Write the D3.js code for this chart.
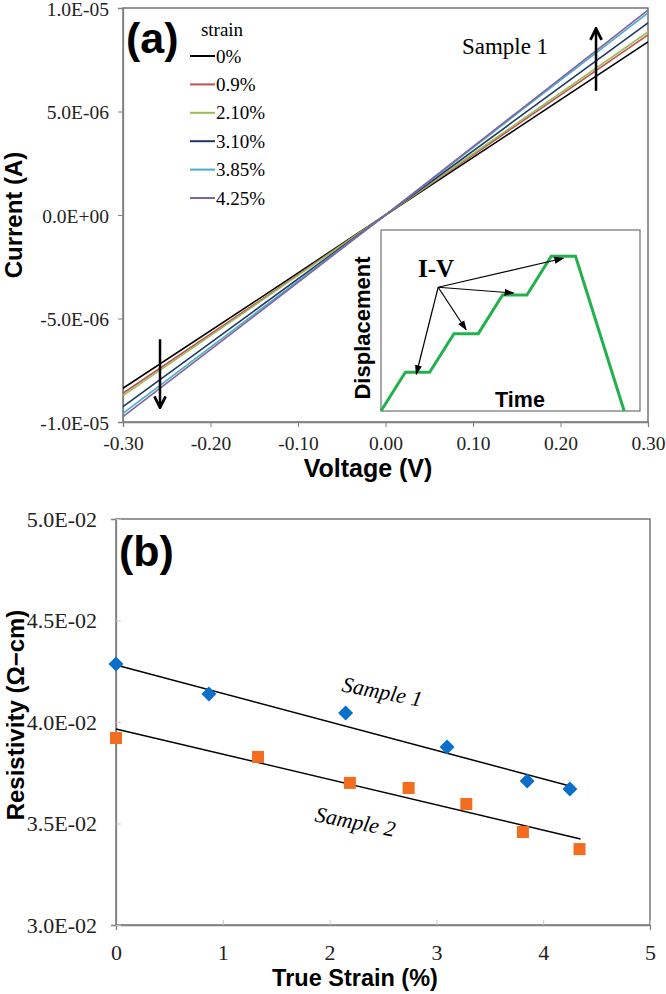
<!DOCTYPE html>
<html><head><meta charset="utf-8">
<script src="https://cdn.jsdelivr.net/npm/d3@7"></script>
<style>body{margin:0;background:#fff}svg{display:block}</style>
</head><body>
<svg id="c" width="666" height="994"></svg>
<script>
// ---------- Panel (a) data ----------
const voltage = [-0.30, -0.15, 0, 0.15, 0.30];
const strainLabels = ["0%", "0.9%", "2.10%", "3.10%", "3.85%", "4.25%"];
const strainColors = ["#000000", "#c0504d", "#9bbb59", "#1f3864", "#4bacc6", "#8064a2"];
const current0   = [-8.37e-6, -4.20e-6, 0, 4.17e-6, 8.36e-6];
const current09  = [-8.61e-6, -4.32e-6, 0, 4.34e-6, 8.70e-6];
const current210 = [-8.73e-6, -4.38e-6, 0, 4.43e-6, 8.84e-6];
const current310 = [-9.26e-6, -4.63e-6, 0, 4.64e-6, 9.28e-6];
const current385 = [-9.58e-6, -4.79e-6, 0, 4.88e-6, 9.76e-6];
const current425 = [-9.74e-6, -4.88e-6, 0, 4.95e-6, 9.90e-6];
const currents = [current0, current09, current210, current310, current385, current425];
const xTicksA = [-0.30, -0.20, -0.10, 0.00, 0.10, 0.20, 0.30];
const xTickLabelsA = ["-0.30", "-0.20", "-0.10", "0.00", "0.10", "0.20", "0.30"];
const yTicksA = [-1e-5, -5e-6, 0, 5e-6, 1e-5];
const yTickLabelsA = ["-1.0E-05", "-5.0E-06", "0.0E+00", "5.0E-06", "1.0E-05"];
// inset: stepwise displacement profile
const insetTime = [0, 1, 2, 3, 4, 5, 6, 7, 8, 10];
const insetDisp = [0, 1, 1, 2, 2, 3, 3, 4, 4, 0];
const insetArrowTargets = [[1.45, 0.95], [3.5, 2.1], [5.45, 3.05], [7.5, 3.95]];
const insetArrowOrigin = [2.35, 3.2];

// ---------- Panel (b) data ----------
const strain1 = [0, 0.87, 2.15, 3.10, 3.85, 4.25];
const resist1 = [0.04286, 0.04138, 0.04044, 0.03877, 0.03709, 0.03670];
const strain2 = [0, 1.33, 2.19, 2.74, 3.28, 3.81, 4.34];
const resist2 = [0.03921, 0.03828, 0.03700, 0.03675, 0.03596, 0.03458, 0.03374];
const trend1X = [0, 4.25], trend1Y = [0.04281, 0.03685];
const trend2X = [0, 4.35], trend2Y = [0.03966, 0.03424];
const xTicksB = [0, 1, 2, 3, 4, 5];
const xTickLabelsB = ["0", "1", "2", "3", "4", "5"];
const yTicksB = [0.030, 0.035, 0.040, 0.045, 0.050];
const yTickLabelsB = ["3.0E-02", "3.5E-02", "4.0E-02", "4.5E-02", "5.0E-02"];

const svg = d3.select("#c");
const SERIF = "'Liberation Serif', 'Times New Roman', serif";
const SANS = "'Liberation Sans', Arial, sans-serif";
const AX = "#808080";

function arrowHead(id, size, open) {
  let defs = svg.select("defs");
  if (defs.empty()) defs = svg.append("defs");
  const m = defs.append("marker").attr("id", id).attr("viewBox", "0 0 10 10")
    .attr("refX", 9).attr("refY", 5).attr("markerWidth", size).attr("markerHeight", size)
    .attr("orient", "auto").attr("markerUnits", "userSpaceOnUse");
  if (open) m.append("path").attr("d", "M1,1 L9,5 L1,9").attr("fill", "none").attr("stroke", "#000").attr("stroke-width", 2);
  else m.append("path").attr("d", "M0,1.5 L10,5 L0,8.5 Z").attr("fill", "#000");
}
arrowHead("headBig", 14, true);
arrowHead("headSmall", 10, false);

// ===== Panel (a) =====
const xA = d3.scaleLinear().domain([-0.3, 0.3]).range([123, 648]);
const yA = d3.scaleLinear().domain([-1e-5, 1e-5]).range([422, 8]);
const gA = svg.append("g");

gA.append("rect").attr("x", xA(-0.3)).attr("y", yA(1e-5))
  .attr("width", xA(0.3) - xA(-0.3)).attr("height", yA(-1e-5) - yA(1e-5))
  .attr("fill", "none").attr("stroke", "#606060").attr("stroke-width", 1.3);

const axA = d3.axisBottom(xA).tickValues(xTicksA).tickSize(5).tickFormat((d, i) => xTickLabelsA[i]);
const axAg = gA.append("g").attr("transform", `translate(0,${yA(-1e-5)})`).call(axA);
const ayA = d3.axisLeft(yA).tickValues(yTicksA).tickSize(5).tickFormat((d, i) => yTickLabelsA[i]);
const ayAg = gA.append("g").attr("transform", `translate(${xA(-0.3)},0)`).call(ayA);
[axAg, ayAg].forEach(g => {
  g.attr("font-family", SERIF);
  g.select(".domain").attr("stroke", AX).attr("stroke-width", 1.3);
  g.selectAll(".tick line").attr("stroke", AX);
  g.selectAll(".tick text").attr("font-family", SERIF).attr("font-size", 19.5).attr("fill", "#222");
});
axAg.selectAll(".tick text").attr("dy", "0").attr("y", 28);
ayAg.selectAll(".tick text").attr("x", -14).attr("dy", "0.36em");

const lineA = d3.line().x((d, i) => xA(voltage[i])).y(d => yA(d));
currents.forEach((c, k) => {
  gA.append("path").attr("d", lineA(c)).attr("fill", "none")
    .attr("stroke", strainColors[k]).attr("stroke-width", 1.6);
});

// legend
gA.append("text").attr("x", 222).attr("y", 36).attr("text-anchor", "middle")
  .attr("font-family", SERIF).attr("font-size", 19).text("strain");
strainLabels.forEach((s, k) => {
  const y = 56 + k * 28.4;
  gA.append("line").attr("x1", 190).attr("x2", 215).attr("y1", y).attr("y2", y)
    .attr("stroke", strainColors[k]).attr("stroke-width", 2);
  gA.append("text").attr("x", 216).attr("y", y + 6.5).attr("font-family", SERIF)
    .attr("font-size", 19).text(s);
});

gA.append("text").attr("x", 126).attr("y", 53).attr("font-family", SANS)
  .attr("font-weight", "bold").attr("font-size", 43).text("(a)");

gA.append("text").attr("x", 505).attr("y", 54).attr("text-anchor", "middle")
  .attr("font-family", SERIF).attr("font-size", 23).text("Sample 1");

// strain direction arrows
gA.append("line").attr("x1", xA(-0.2577)).attr("x2", xA(-0.2577))
  .attr("y1", yA(-6.0e-6)).attr("y2", yA(-9.3e-6))
  .attr("stroke", "#000").attr("stroke-width", 2.5).attr("marker-end", "url(#headBig)");
gA.append("line").attr("x1", xA(0.2406)).attr("x2", xA(0.2406))
  .attr("y1", yA(6.0e-6)).attr("y2", yA(9.0e-6))
  .attr("stroke", "#000").attr("stroke-width", 2.5).attr("marker-end", "url(#headBig)");

// axis titles
gA.append("text").attr("x", 368).attr("y", 477).attr("text-anchor", "middle")
  .attr("font-family", SANS).attr("font-weight", "bold").attr("font-size", 25).text("Voltage (V)");
gA.append("text").attr("transform", "translate(22,215) rotate(-90)").attr("text-anchor", "middle")
  .attr("font-family", SANS).attr("font-weight", "bold").attr("font-size", 24).text("Current (A)");

// inset
const xI = d3.scaleLinear().domain([0, 10.65]).range([381, 640]);
const yI = d3.scaleLinear().domain([0, 4.68]).range([411, 230]);
gA.append("rect").attr("x", xI(0)).attr("y", yI(4.68)).attr("width", xI(10.65) - xI(0))
  .attr("height", yI(0) - yI(4.68)).attr("fill", "#fff").attr("stroke", "#707070").attr("stroke-width", 1.2);
gA.append("path").attr("d", d3.line().x((d, i) => xI(insetTime[i])).y(d => yI(d))(insetDisp))
  .attr("fill", "none").attr("stroke", "#22b14c").attr("stroke-width", 3);
insetArrowTargets.forEach(t => {
  gA.append("line").attr("x1", xI(insetArrowOrigin[0])).attr("y1", yI(insetArrowOrigin[1]))
    .attr("x2", xI(t[0])).attr("y2", yI(t[1])).attr("stroke", "#000").attr("stroke-width", 1.2)
    .attr("marker-end", "url(#headSmall)");
});
gA.append("text").attr("x", 436).attr("y", 277).attr("text-anchor", "middle")
  .attr("font-family", SERIF).attr("font-weight", "bold").attr("font-size", 25).text("I-V");
gA.append("text").attr("x", 520).attr("y", 407).attr("text-anchor", "middle")
  .attr("font-family", SANS).attr("font-weight", "bold").attr("font-size", 21.5).text("Time");
gA.append("text").attr("transform", "translate(370,328) rotate(-90)").attr("text-anchor", "middle")
  .attr("font-family", SANS).attr("font-weight", "bold").attr("font-size", 22).text("Displacement");

// ===== Panel (b) =====
const xB = d3.scaleLinear().domain([0, 5]).range([116, 650]);
const yB = d3.scaleLinear().domain([0.03, 0.05]).range([925, 519]);
const gB = svg.append("g");
gB.append("rect").attr("x", xB(0)).attr("y", yB(0.05)).attr("width", xB(5) - xB(0))
  .attr("height", yB(0.03) - yB(0.05)).attr("fill", "none").attr("stroke", "#606060").attr("stroke-width", 1.3);
const axBg = gB.append("g").attr("transform", `translate(0,${yB(0.03)})`)
  .call(d3.axisBottom(xB).tickValues(xTicksB).tickSize(5).tickFormat((d, i) => xTickLabelsB[i]));
const ayBg = gB.append("g").attr("transform", `translate(${xB(0)},0)`)
  .call(d3.axisLeft(yB).tickValues(yTicksB).tickSize(5).tickFormat((d, i) => yTickLabelsB[i]));
[axBg, ayBg].forEach(g => {
  g.attr("font-family", SERIF);
  g.select(".domain").attr("stroke", AX).attr("stroke-width", 1.3);
  g.selectAll(".tick line").attr("stroke", "#c8c8c8");
  g.selectAll(".tick text").attr("font-family", SERIF).attr("font-size", 22).attr("fill", "#222");
});
axBg.selectAll(".tick line").attr("y2", -5);
axBg.selectAll(".tick text").attr("dy", "0").attr("y", 35);
ayBg.selectAll(".tick line").attr("x2", 5);
ayBg.selectAll(".tick text").attr("x", -19);

const lineB = d3.line().x(d => xB(d[0])).y(d => yB(d[1]));
gB.append("path").attr("d", lineB(trend1X.map((x, i) => [x, trend1Y[i]])))
  .attr("stroke", "#000").attr("stroke-width", 1.5).attr("fill", "none");
gB.append("path").attr("d", lineB(trend2X.map((x, i) => [x, trend2Y[i]])))
  .attr("stroke", "#000").attr("stroke-width", 1.5).attr("fill", "none");

gB.selectAll("path.dia").data(strain1.map((x, i) => [x, resist1[i]])).join("path")
  .attr("class", "dia").attr("d", d3.symbol(d3.symbolSquare, 112)())
  .attr("transform", d => `translate(${xB(d[0])},${yB(d[1])}) rotate(45)`)
  .attr("fill", "#0a6fc9");
gB.selectAll("path.sq").data(strain2.map((x, i) => [x, resist2[i]])).join("path")
  .attr("class", "sq").attr("d", d3.symbol(d3.symbolSquare, 144)())
  .attr("transform", d => `translate(${xB(d[0])},${yB(d[1])})`)
  .attr("fill", "#f26d1f");

gB.append("text").attr("transform", "translate(381,699) rotate(11)").attr("text-anchor", "middle")
  .attr("font-family", SERIF).attr("font-style", "italic").attr("font-size", 22).text("Sample 1");
gB.append("text").attr("transform", "translate(354,829) rotate(11)").attr("text-anchor", "middle")
  .attr("font-family", SERIF).attr("font-style", "italic").attr("font-size", 22).text("Sample 2");

gB.append("text").attr("x", 119).attr("y", 566).attr("font-family", SANS)
  .attr("font-weight", "bold").attr("font-size", 43).text("(b)");

gB.append("text").attr("x", 355).attr("y", 986).attr("text-anchor", "middle")
  .attr("font-family", SANS).attr("font-weight", "bold").attr("font-size", 23.5).text("True Strain (%)");
gB.append("text").attr("transform", "translate(24,715) rotate(-90)").attr("text-anchor", "middle")
  .attr("font-family", SANS).attr("font-weight", "bold").attr("font-size", 24).text("Resistivity (Ω−cm)");
</script>
</body></html>
